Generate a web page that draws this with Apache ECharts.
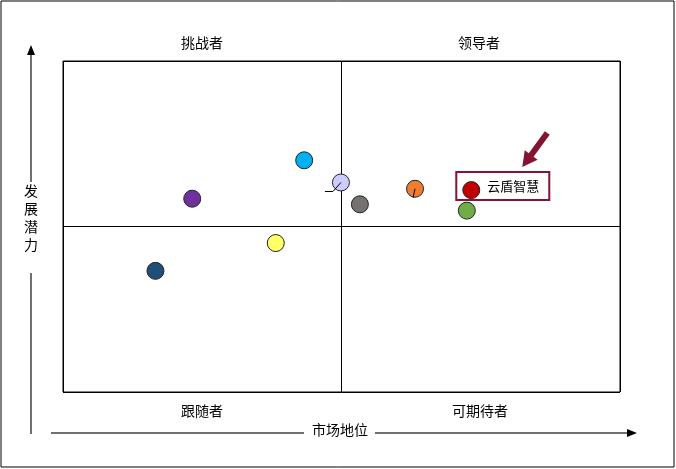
<!DOCTYPE html>
<html>
<head>
<meta charset="utf-8">
<script src="https://cdn.jsdelivr.net/npm/echarts@6/dist/echarts.min.js"></script>
<style>
  html, body { margin: 0; padding: 0; background: #fff; }
  #chart0 { width: 676px; height: 469px; }
</style>
</head>
<body>
<div id="chart0"></div>
<script>
// 市场地位 (x) / 发展潜力 (y), 0-10, 中线在 5
var xValues = [4.33, 4.99, 5.33, 6.32, 7.33, 7.25, 2.32, 3.82, 1.66]
var yValues = [7.00, 6.33, 5.67, 6.14, 6.10, 5.48, 5.84, 4.50, 3.66]
var pointColors = ['#00b0f0', '#ccccff', '#767171', '#ed7d31', '#c00000', '#70ad47', '#7030a0', '#ffff66', '#1f4e79']
var pointNames = ['', '', '', '', '云盾智慧', '', '', '', '']
var quadrantNames = ['挑战者', '领导者', '跟随者', '可期待者']
var xAxisName = '市场地位'
var yAxisName = '发展潜力'

var darkRed = '#851331'
var axisGray = '#404040'
var font = '"Noto Sans CJK SC", sans-serif'

;(function () {
  var chart0 = echarts.init(document.getElementById('chart0'))

  var points = xValues.map(function (x, i) {
    var item = {
      name: pointNames[i],
      value: [x, yValues[i]],
      itemStyle: { color: pointColors[i] }
    }
    if (pointNames[i]) {
      item.label = {
        show: true,
        formatter: '{b}',
        position: [-6, -9],
        align: 'left',
        verticalAlign: 'top',
        color: '#000',
        fontSize: 13,
        fontFamily: font,
        lineHeight: 14,
        padding: [7, 10, 7, 31],
        borderColor: darkRed,
        borderWidth: 2
      }
    }
    return item
  })

  // 两个点上残留的短引线 (像素偏移)
  var leaders = { 1: [[-8, 9], [-16, 9]], 3: [[-2, 9]] }

  var option0 = {
    animation: false,
    grid: {
      left: 63, right: 56, top: 61, bottom: 77,
      show: true, borderColor: '#000', borderWidth: 1
    },
    xAxis: {
      type: 'value', min: 0, max: 10, interval: 5,
      axisLine: { show: false }, axisTick: { show: false }, axisLabel: { show: false },
      splitLine: { show: true, lineStyle: { color: '#000', width: 1 } }
    },
    yAxis: {
      type: 'value', min: 0, max: 10, interval: 5,
      axisLine: { show: false }, axisTick: { show: false }, axisLabel: { show: false },
      splitLine: { show: true, lineStyle: { color: '#000', width: 1 } }
    },
    series: [{
      type: 'scatter',
      z: 3,
      symbolSize: 17,
      itemStyle: { borderColor: '#222', borderWidth: 1, opacity: 1 },
      data: points
    }, {
      type: 'custom',
      z: 4,
      silent: true,
      data: points.map(function (p) { return p.value }),
      renderItem: function (params, api) {
        var seg = leaders[params.dataIndex]
        if (!seg) return
        var c = api.coord([api.value(0), api.value(1)])
        var pts = [c].concat(seg.map(function (d) { return [c[0] + d[0], c[1] + d[1]] }))
        return {
          type: 'polyline',
          shape: { points: pts },
          style: { stroke: '#000', lineWidth: 1, fill: null }
        }
      }
    }]
  }

  chart0.setOption(option0)

  // 指向“云盾智慧”的箭头
  var target = chart0.convertToPixel({ gridIndex: 0 }, [xValues[4], yValues[4]])
  var tip = [target[0] + 51, target[1] - 23]
  var tail = [target[0] + 76, target[1] - 57]
  var dx = tip[0] - tail[0], dy = tip[1] - tail[1]
  var len = Math.sqrt(dx * dx + dy * dy)
  var ux = dx / len, uy = dy / len, nx = -uy, ny = ux
  var neck = [tip[0] - ux * 15, tip[1] - uy * 15]
  function off(p, w) { return [p[0] + nx * w, p[1] + ny * w] }
  var arrow = [off(tail, 3), off(neck, 3), off(neck, 8), tip, off(neck, -8), off(neck, -3), off(tail, -3)]

  var textStyle = { fill: '#000', fontSize: 14, fontFamily: font, align: 'center', verticalAlign: 'middle' }
  function label(text, x, y) {
    return { type: 'text', x: x, y: y, style: Object.assign({ text: text }, textStyle) }
  }

  chart0.setOption({
    graphic: [
      { type: 'rect', shape: { x: 1, y: 1, width: 673, height: 466 }, style: { fill: null, stroke: '#000', lineWidth: 1 } },
      { type: 'polygon', shape: { points: arrow }, style: { fill: darkRed } },
      label(quadrantNames[0], 202, 43),
      label(quadrantNames[1], 479, 43),
      label(quadrantNames[2], 202, 411),
      label(quadrantNames[3], 480, 411),
      // 纵向箭头
      { type: 'line', shape: { x1: 31, y1: 53, x2: 31, y2: 182 }, style: { stroke: axisGray, lineWidth: 1.5 } },
      { type: 'line', shape: { x1: 31, y1: 273, x2: 31, y2: 434 }, style: { stroke: axisGray, lineWidth: 1.5 } },
      { type: 'polygon', shape: { points: [[31, 45], [35, 55], [27, 55]] }, style: { fill: '#000' } },
      { type: 'text', x: 31, y: 218, style: Object.assign({ text: yAxisName.split('').join('\n'), lineHeight: 18 }, textStyle) },
      // 横向箭头
      { type: 'line', shape: { x1: 51, y1: 433, x2: 304, y2: 433 }, style: { stroke: axisGray, lineWidth: 1.5 } },
      { type: 'line', shape: { x1: 375, y1: 433, x2: 628, y2: 433 }, style: { stroke: axisGray, lineWidth: 1.5 } },
      { type: 'polygon', shape: { points: [[637, 433], [627, 429], [627, 437]] }, style: { fill: '#000' } },
      label(xAxisName, 340, 430)
    ]
  })
})()
</script>
</body>
</html>
